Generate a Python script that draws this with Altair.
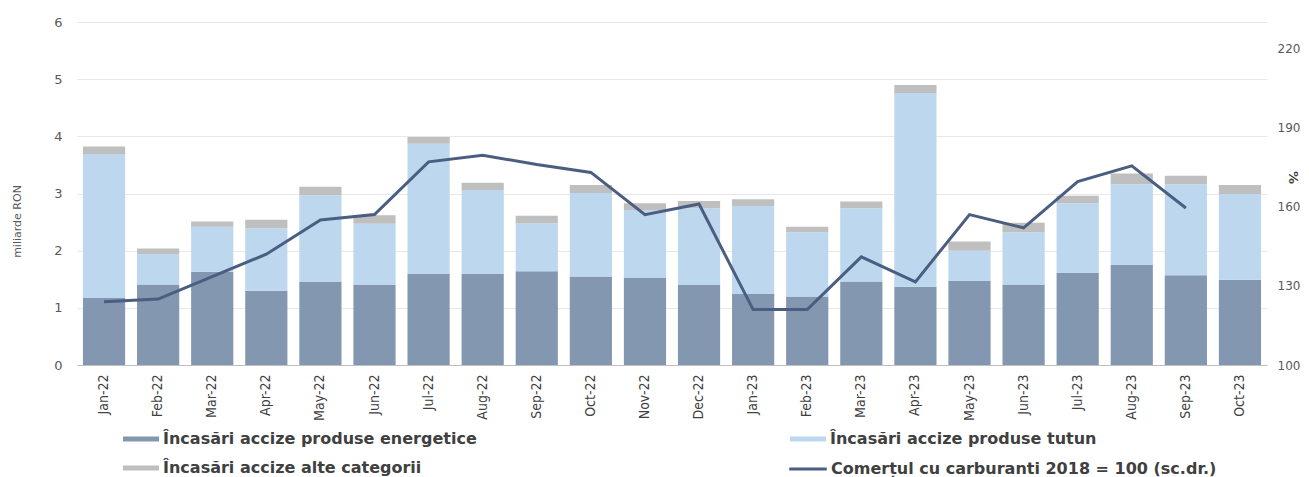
import altair as alt
import pandas as pd

months = ["Jan-22", "Feb-22", "Mar-22", "Apr-22", "May-22", "Jun-22", "Jul-22", "Aug-22",
          "Sep-22", "Oct-22", "Nov-22", "Dec-22", "Jan-23", "Feb-23", "Mar-23", "Apr-23",
          "May-23", "Jun-23", "Jul-23", "Aug-23", "Sep-23", "Oct-23"]
energy = [1.17, 1.41, 1.63, 1.30, 1.45, 1.40, 1.59, 1.59, 1.64, 1.55, 1.52, 1.40,
          1.24, 1.20, 1.46, 1.37, 1.47, 1.41, 1.61, 1.75, 1.57, 1.49]
tobacco = [2.52, 0.53, 0.79, 1.09, 1.52, 1.07, 2.28, 1.47, 0.84, 1.46, 1.19, 1.34,
           1.54, 1.12, 1.28, 3.39, 0.53, 0.91, 1.22, 1.41, 1.59, 1.50]
other = [0.13, 0.10, 0.09, 0.15, 0.15, 0.15, 0.12, 0.13, 0.13, 0.14, 0.12, 0.13,
         0.12, 0.10, 0.12, 0.14, 0.16, 0.17, 0.13, 0.19, 0.15, 0.16]
fuel = [124, 125, 133.5, 142, 155, 157, 177, 179.5, 176, 173, 157, 161,
        121, 121, 141, 131.5, 157, 152, 169.5, 175.5, 159.5, None]

S_E = "Încasări accize produse energetice"
S_T = "Încasări accize produse tutun"
S_A = "Încasări accize alte categorii"
S_L = "Comerțul cu carburanti 2018 = 100 (sc.dr.)"
bar_series = [S_E, S_T, S_A]
bar_colors = ["#8497B0", "#BDD7EE", "#BFBFBF"]
line_color = "#4A5E82"

rows = []
for i, m in enumerate(months):
    rows.append({"month": m, "series": S_E, "value": energy[i], "ord": 0})
    rows.append({"month": m, "series": S_T, "value": tobacco[i], "ord": 1})
    rows.append({"month": m, "series": S_A, "value": other[i], "ord": 2})
bars_df = pd.DataFrame(rows)
line_df = pd.DataFrame([{"month": m, "series": S_L, "value": v}
                        for m, v in zip(months, fuel) if v is not None])

xenc = alt.X("month:N", sort=months,
             scale=alt.Scale(paddingInner=0.22, paddingOuter=0.11),
             axis=alt.Axis(title=None, labelAngle=270, labelFont="DejaVu Sans Condensed",
                           labelFontSize=14, labelColor="#404040", ticks=False,
                           domainColor="#BFBFBF", labelPadding=9, grid=False))

wide = "M-1,-0.14H1V0.14H-1Z"
thin = "M-1,-0.045H1V0.045H-1Z"
leg_common = dict(title=None, orient="none", padding=0, labelOffset=4,
                  labelFont="DejaVu Sans", labelFontWeight="bold",
                  labelFontSize=16, labelColor="#404040", labelLimit=500)

fill = alt.Fill("series:N", scale=alt.Scale(domain=bar_series, range=bar_colors),
                legend=alt.Legend(legendX=46, legendY=399, columns=2, columnPadding=313,
                                  direction="horizontal", rowPadding=3,
                                  symbolType=wide, symbolSize=1296,
                                  symbolStrokeWidth=0, **leg_common))

stroke = alt.Stroke("series:N", scale=alt.Scale(domain=[S_L], range=[line_color]),
                    legend=alt.Legend(legendX=712, legendY=428, symbolType=thin,
                                      symbolSize=1296, symbolStrokeWidth=1.5,
                                      symbolFillColor=line_color, **leg_common))

bars = alt.Chart(bars_df).mark_bar().encode(
    x=xenc,
    y=alt.Y("value:Q", stack="zero", scale=alt.Scale(domain=[0, 6], nice=False),
            axis=alt.Axis(title="miliarde RON", values=[0, 1, 2, 3, 4, 5, 6], ticks=False,
                          domain=False, gridColor="#E8E8E8", labelColor="#595959",
                          labelFontSize=13, labelFont="DejaVu Sans", labelPadding=15,
                          titleFont="DejaVu Sans", titleFontSize=11, titleFontWeight="normal",
                          titleColor="#595959", titleX=-60, titleY=199, titleBaseline="middle")),
    fill=fill,
    order=alt.Order("ord:Q"),
)

line = alt.Chart(line_df).mark_line(strokeWidth=3).encode(
    x=alt.X("month:N", sort=months),
    y=alt.Y("value:Q", scale=alt.Scale(domain=[100, 230], nice=False),
            axis=alt.Axis(title="%", orient="right", values=[100, 130, 160, 190, 220],
                          ticks=False, domain=False, grid=False, labelColor="#595959",
                          labelFontSize=12, labelFont="DejaVu Sans", labelPadding=10,
                          titleFont="DejaVu Sans", titleFontSize=13, titleFontWeight="bold",
                          titleColor="#404040", titleX=25, titleY=155, titleBaseline="middle")),
    stroke=stroke,
)

chart = alt.layer(bars, line).resolve_scale(y="independent").properties(
    width=1190, height=343,
    autosize=alt.AutoSizeParams(type="none"),
    padding={"left": 69, "top": 14, "right": 34, "bottom": 112},
).configure_view(stroke=None)

chart.save("out.html", embed_options={"renderer": "svg", "actions": False})
